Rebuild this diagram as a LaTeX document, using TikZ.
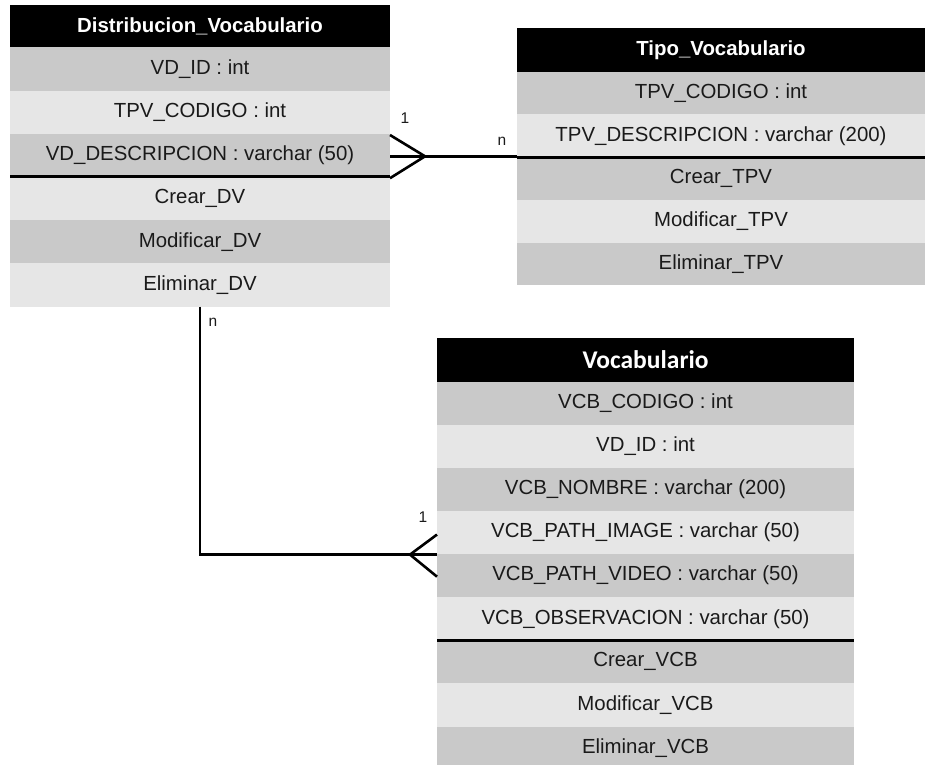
\documentclass[tikz,border=0pt]{standalone}
\usepackage{fontspec}
\setmainfont{Liberation Sans}
\newfontfamily\carl{Carlito}
\definecolor{dk}{HTML}{C9C9C9}
\definecolor{lt}{HTML}{E6E6E6}
\definecolor{txt}{HTML}{1A1A1A}
\usetikzlibrary{calc}
\begin{document}
\begin{tikzpicture}[x=1pt,y=-1pt,
  cell/.style={anchor=north west,inner sep=0pt,outer sep=0pt,text=txt,
    font=\fontsize{20.4}{22}\selectfont},
  hd/.style={cell,fill=black,text=white,font=\fontsize{20.4}{22}\selectfont\bfseries},
  dkrow/.style={cell,fill=dk},
  ltrow/.style={cell,fill=lt},
  sep/.style={line width=3pt,black},
  conn/.style={line width=2.6pt,black},
  card/.style={font=\fontsize{15.5}{17}\selectfont,text=txt,inner sep=0pt}]
\useasboundingbox (0,0) rectangle (925,764);
\fill[white] (0,0) rectangle (925,764);
% ---- Distribucion_Vocabulario
\begin{scope}[every node/.append style={minimum width=380pt,minimum height=43.2pt}]
\node[hd,minimum height=42.3pt] (t1h) at (10,5) {Distribucion\_Vocabulario};
\node[dkrow] (t1r1) at (10,47.3) {VD\_ID : int};
\node[ltrow] (t1r2) at (10,90.5) {TPV\_CODIGO : int};
\node[dkrow] (t1r3) at (10,133.7) {VD\_DESCRIPCION : varchar (50)};
\node[ltrow] (t1r4) at (10,176.9) {Crear\_DV};
\node[dkrow] (t1r5) at (10,220.1) {Modificar\_DV};
\node[ltrow] (t1r6) at (10,263.3) {Eliminar\_DV};
\end{scope}
\draw[sep] (t1r3.south west) -- (t1r3.south east);
% ---- Tipo_Vocabulario
\begin{scope}[every node/.append style={minimum width=408pt,minimum height=42.7pt}]
\node[hd,minimum height=43.4pt] (t2h) at (517,28.3) {Tipo\_Vocabulario};
\node[dkrow] (t2r1) at (517,71.7) {TPV\_CODIGO : int};
\node[ltrow] (t2r2) at (517,114.4) {TPV\_DESCRIPCION : varchar (200)};
\node[dkrow] (t2r3) at (517,157.1) {Crear\_TPV};
\node[ltrow] (t2r4) at (517,199.8) {Modificar\_TPV};
\node[dkrow] (t2r5) at (517,242.5) {Eliminar\_TPV};
\end{scope}
\draw[sep] (t2r2.south west) -- (t2r2.south east);
% ---- Vocabulario
\begin{scope}[every node/.append style={minimum width=417pt,minimum height=43.1pt}]
\node[hd,minimum height=43.4pt,font=\carl\fontsize{25.5}{28}\selectfont\bfseries] (t3h) at (437,338.3) {Vocabulario};
\node[dkrow] (t3r1) at (437,381.7) {VCB\_CODIGO : int};
\node[ltrow] (t3r2) at (437,424.8) {VD\_ID : int};
\node[dkrow] (t3r3) at (437,467.9) {VCB\_NOMBRE : varchar (200)};
\node[ltrow] (t3r4) at (437,511.0) {VCB\_PATH\_IMAGE : varchar (50)};
\node[dkrow] (t3r5) at (437,554.1) {VCB\_PATH\_VIDEO : varchar (50)};
\node[ltrow] (t3r6) at (437,597.2) {VCB\_OBSERVACION : varchar (50)};
\node[dkrow] (t3r7) at (437,640.3) {Crear\_VCB};
\node[ltrow] (t3r8) at (437,683.4) {Modificar\_VCB};
\node[dkrow] (t3r9) at (437,726.5) {Eliminar\_VCB};
\end{scope}
\draw[sep] (t3r6.south west) -- (t3r6.south east);
% ---- connector 1 (Distribucion - Tipo)
\coordinate (a1) at (425,156.3);
\draw[conn] (t1r3.east |- a1) -- (t2r2.west |- a1);
\draw[conn] (t1r3.north east) ++(0,1.3) -- (a1) -- ($(t1r3.south east)+(0,1.3)$);
\node[card] (l1) at (405,118) {1};
\node[card] (l2) at (502,141) {n};
% ---- connector 2 (Distribucion - Vocabulario)
\coordinate (a2) at (410,554.6);
\draw[conn] (t1r6.south) |- (t3r4.west |- a2);
\draw[conn] ($(t3r4.west)+(0,2)$) -- (a2) -- ($(t3r5.west)+(0,1)$);
\node[card] (l3) at (213,322) {n};
\node[card] (l4) at (423,517) {1};
\end{tikzpicture}
\end{document}
